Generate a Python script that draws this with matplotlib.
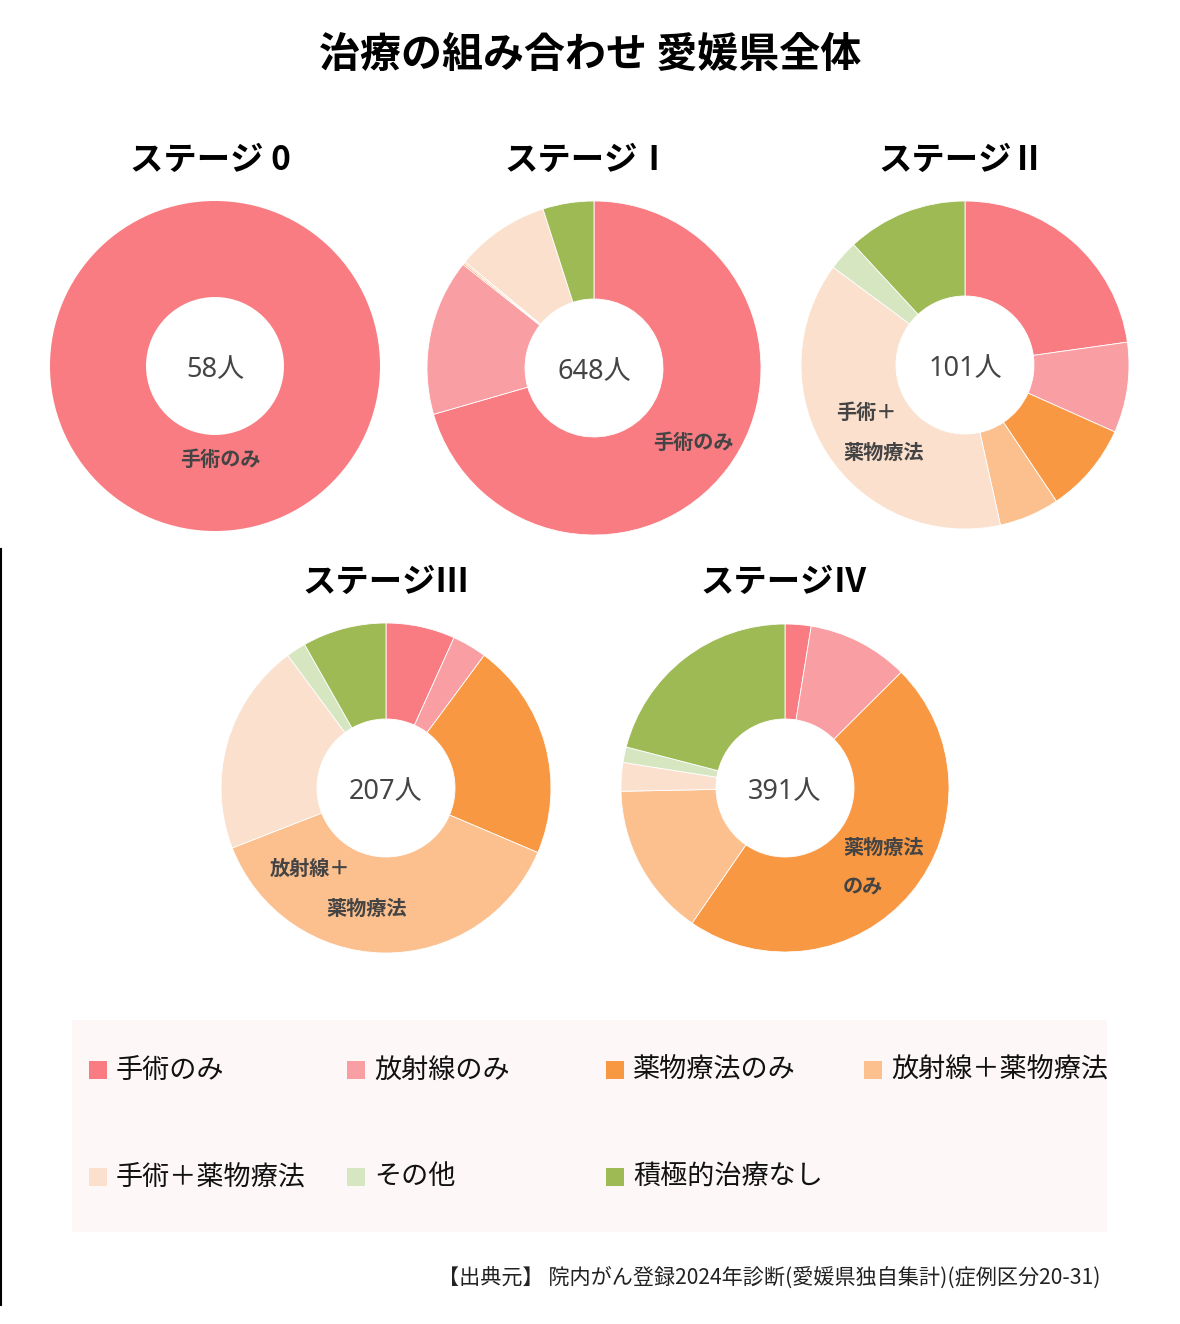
import matplotlib.pyplot as plt
from matplotlib.patches import Rectangle
from matplotlib.lines import Line2D

plt.rcParams['font.family'] = ['Noto Sans CJK JP', 'DejaVu Sans']

# data (counts of patients per treatment combination)
categories = ['手術のみ', '放射線のみ', '薬物療法のみ', '放射線+薬物療法',
              '手術+薬物療法', 'その他', '積極的治療なし']
colors = ['#F87C82', '#F99FA4', '#F99843', '#FCBF8E',
          '#FBE0CD', '#D6E6C0', '#9EBA55']
stages = ['ステージ 0', 'ステージⅠ', 'ステージⅡ', 'ステージⅢ', 'ステージⅣ']
stage0 = [58, 0, 0, 0, 0, 0, 0]
stage1 = [457, 98, 1, 1, 59, 0, 32]
stage2 = [23, 9, 9, 6, 39, 3, 12]
stage3 = [14, 7, 44, 78, 43, 4, 17]
stage4 = [10, 39, 184, 59, 11, 6, 82]
stage_values = [stage0, stage1, stage2, stage3, stage4]

W, H = 1180, 1324
fig = plt.figure(figsize=(W / 100, H / 100), dpi=100)

# pixel layout: center x, center y, radius, title y
layout = [(215, 366, 165, 160), (594, 368, 167, 160), (965, 365, 164, 160),
          (386, 788, 165, 582), (785, 788, 164, 582)]
title_x = [210, 588, 962, 386, 784]

# slice labels: (text, x px, y px, ha)
slice_labels = [
    [('手術のみ', 220, 459, 'center')],
    [('手術のみ', 693, 442, 'center')],
    [('手術＋', 866, 412, 'center'), ('薬物療法', 884, 452, 'center')],
    [('放射線＋', 310, 868, 'center'), ('薬物療法', 367, 908, 'center')],
    [('薬物療法', 843, 847, 'left'), ('のみ', 843, 887, 'left')],
]

for vals, (cx, cy, r, ty), tx, stage, labs in zip(stage_values, layout, title_x,
                                                   stages, slice_labels):
    ax = fig.add_axes([(cx - r) / W, 1 - (cy + r) / H, 2 * r / W, 2 * r / H])
    nz = [(v, c) for v, c in zip(vals, colors) if v > 0]
    lw = 0.6 if len(nz) > 1 else 0
    ax.pie([v for v, _ in nz], colors=[c for _, c in nz], startangle=90,
           counterclock=False, radius=1.0,
           wedgeprops=dict(width=1 - 69 / r, edgecolor='white', linewidth=lw))
    ax.set_aspect('equal')
    ax.set_xlim(-1, 1)
    ax.set_ylim(-1, 1)
    ax.axis('off')
    ax.text(0, -0.025, f'{sum(vals)}人', ha='center', va='center',
            fontsize=19.5, color='#444444',
            family=['Noto Sans', 'Noto Sans CJK JP'])
    for t, lx, ly, ha in labs:
        fig.text(lx / W, 1 - ly / H, t, ha=ha, va='center', fontsize=14.5,
                 fontweight='bold', color='#444444')
    fig.text(tx / W, 1 - ty / H, stage, ha='center', va='center',
             fontsize=24, fontweight='bold', color='black')

fig.text(590 / W, 1 - 55 / H, '治療の組み合わせ 愛媛県全体', ha='center',
         va='center', fontsize=29.5, fontweight='bold')

# legend box
fig.add_artist(Rectangle((72 / W, 1 - 1232 / H), (1107 - 72) / W, 212 / H,
                         transform=fig.transFigure, facecolor='#FDF7F7',
                         edgecolor='none', zorder=0))
col_x = [89, 347, 606, 864]
row_y = [1070, 1177]
for i, (cat, col) in enumerate(zip(categories, colors)):
    x = col_x[i % 4]
    y = row_y[i // 4]
    fig.add_artist(Rectangle((x / W, 1 - (y + 9) / H), 18 / W, 18 / H,
                             transform=fig.transFigure, facecolor=col,
                             edgecolor='none'))
    fig.text((x + 27) / W, 1 - y / H, cat.replace('+', '＋'),
             ha='left', va='center', fontsize=19.5, color='#111111')

fig.text(1100 / W, 1 - 1278 / H,
         '【出典元】 院内がん登録2024年診断(愛媛県独自集計)(症例区分20-31)',
         ha='right', va='center', fontsize=15.2, color='#222222')

fig.add_artist(Line2D([0.5 / W, 0.5 / W], [1 - 549 / H, 1 - 1305 / H],
                      transform=fig.transFigure, color='black', linewidth=1.5))

fig.savefig('out.png', dpi=100)
